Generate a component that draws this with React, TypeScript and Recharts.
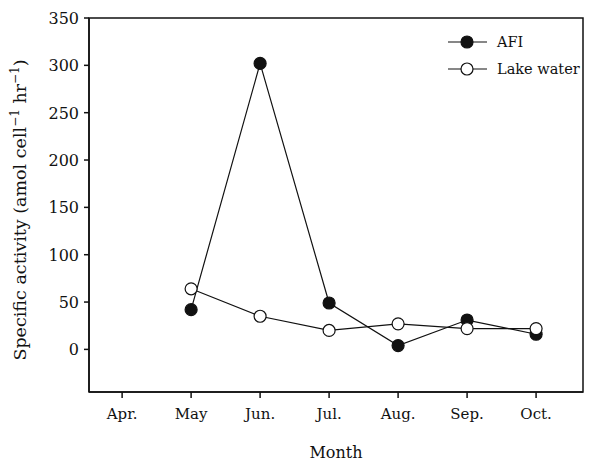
import React from 'react';
import { LineChart, Line, XAxis, YAxis, ReferenceArea } from 'recharts';

const months = ['Apr.', 'May', 'Jun.', 'Jul.', 'Aug.', 'Sep.', 'Oct.'];
const afi = [null, 42, 302, 49, 4, 31, 16];
const lakeWater = [null, 64, 35, 20, 27, 22, 22];
const yTicks = [0, 50, 100, 150, 200, 250, 300, 350];
const xDomain = [-0.48, 6.68];
const yDomain = [-45, 350];

const data = months.map((m, i) => ({ idx: i, month: m, afi: afi[i], lake: lakeWater[i] }));

const font = '"DejaVu Serif", "Liberation Serif", serif';

const XTick = (props: any) => {
  const { x, y, payload } = props;
  return (
    <text x={x} y={y + 19} textAnchor="middle" fontFamily={font} fontSize={15} fill="#111">
      {months[payload.value]}
    </text>
  );
};

const YTick = (props: any) => {
  const { x, y, payload } = props;
  return (
    <text x={x - 3} y={y + 6} textAnchor="end" fontFamily={font} fontSize={16} fill="#111">
      {payload.value}
    </text>
  );
};

const YLabel = () => (
  <text
    x={0}
    y={0}
    transform="translate(18, 202) rotate(-90)"
    textAnchor="middle"
    fontFamily={font}
    fontSize={17.5}
    fill="#111"
  >
    Specific activity (amol cell
    <tspan dy={-7} fontSize={12}>−1</tspan>
    <tspan dy={7}> hr</tspan>
    <tspan dy={-7} fontSize={12}>−1</tspan>
    <tspan dy={7}>)</tspan>
  </text>
);

const legendRows = [
  { name: 'AFI', fill: '#111' },
  { name: 'Lake water', fill: '#fff' },
];

const LegendBox = () => (
  <svg width={160} height={60} style={{ position: 'absolute', left: 438, top: 24 }}>
    {legendRows.map((r, i) => {
      const y = 10 + i * 27;
      return (
        <g key={r.name}>
          <line x1={2} x2={41} y1={y} y2={y} stroke="#111" strokeWidth={1.2} />
          <circle cx={21} cy={y} r={6} fill={r.fill} stroke="#111" strokeWidth={1.2} />
          <text x={51} y={y + 5} fontFamily={font} fontSize={14.5} fill="#111">
            {r.name}
          </text>
        </g>
      );
    })}
  </svg>
);

export default function App() {
  return (
    <div style={{ width: 600, height: 457, position: 'relative' }}>
      <LineChart
        width={600}
        height={457}
        data={data}
        margin={{ top: 10, right: 25, left: 0, bottom: 33 }}
      >
        <XAxis
          dataKey="idx"
          type="number"
          domain={xDomain}
          ticks={[0, 1, 2, 3, 4, 5, 6]}
          stroke="#111"
          strokeWidth={1.5}
          tickSize={6}
          tick={<XTick />}
          height={40}
        />
        <YAxis
          type="number"
          domain={yDomain}
          ticks={yTicks}
          allowDataOverflow
          stroke="#111"
          strokeWidth={1.5}
          tickSize={5}
          tick={<YTick />}
          width={81}
          label={<YLabel />}
        />
        <ReferenceArea
          x1={xDomain[0]}
          x2={xDomain[1]}
          y1={yDomain[0]}
          y2={yDomain[1]}
          fill="none"
          stroke="#111"
          strokeWidth={1.5}
          ifOverflow="visible"
        />
        <Line
          dataKey="afi"
          stroke="#111"
          strokeWidth={1.2}
          dot={{ r: 6, fill: '#111', stroke: '#111', strokeWidth: 1.2 }}
          isAnimationActive={false}
        />
        <Line
          dataKey="lake"
          stroke="#111"
          strokeWidth={1.2}
          dot={{ r: 6, fill: '#fff', stroke: '#111', strokeWidth: 1.2 }}
          isAnimationActive={false}
        />
      </LineChart>
      <LegendBox />
      <div
        style={{
          position: 'absolute',
          left: 0,
          top: 435,
          width: 656,
          textAlign: 'center',
          fontFamily: font,
          fontSize: 16,
          color: '#111',
        }}
      >
        Month
      </div>
    </div>
  );
}
